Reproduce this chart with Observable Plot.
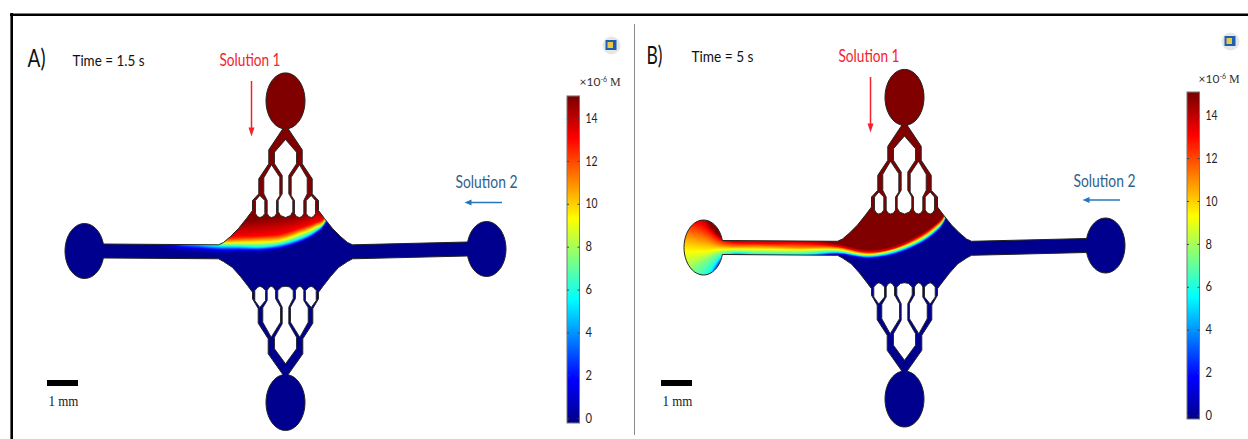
<!DOCTYPE html>
<html>
<head>
<meta charset="utf-8">
<script src="https://cdn.jsdelivr.net/npm/d3@7"></script>
<script src="https://cdn.jsdelivr.net/npm/@observablehq/plot@0.6"></script>
<style>html,body{margin:0;padding:0;background:#fff}svg{display:block}</style>
</head>
<body>
<div id="chart"></div>
<script>
// Colour scale of the concentration (x10^-6 M)
const colorStops = [0, 1.875, 5.625, 9.375, 13.125, 15];
const colorValues = ["#00008f", "#0000ff", "#00ffff", "#ffff00", "#ff0000", "#800000"];
const barTicks = [0, 2, 4, 6, 8, 10, 12, 14];

// Concentration levels and, per x station, the y at which each level sits
const levels = [15, 13.1, 11.2, 9.4, 7.5, 5.6, 1.9, 0];
const stationsA = [60, 125, 150, 175, 200, 218, 240, 260, 280, 300, 315, 325, 340];
const isolinesA = [
  [140, 145, 150, 155, 160, 165, 170, 175],
  [180, 185, 190, 195, 200, 205, 212, 218],
  [200, 205, 210, 215, 220, 225, 235, 243],
  [215, 220, 225, 230, 235, 240, 245, 250],
  [228, 232, 235, 238, 241, 244, 247.5, 252],
  [233, 237, 240, 242, 243.5, 245.5, 249, 253],
  [222, 236, 239.5, 242, 244, 246, 249, 252],
  [218, 235.5, 238.5, 241.7, 244, 246.7, 249, 252],
  [216, 233.5, 237, 240, 242, 244, 246.7, 249],
  [214, 227.5, 230.5, 233, 235.5, 238, 240.7, 242.7],
  [209, 222, 224.5, 226.7, 228.7, 230.7, 232.7, 235],
  [207, 215.5, 217, 219, 220, 221, 222.5, 224],
  [170, 173, 176, 179, 182, 185, 188, 190]
];
const stationsB = [683, 702, 722, 760, 800, 836, 866.7, 893, 920, 937, 944, 960];
const isolinesB = [
  [150, 218, 233, 250, 277, 297, 320, 340],
  [210, 225, 238, 250.7, 262, 283, 300, 320],
  [236.7, 240, 245, 248.7, 252, 255.7, 260, 265],
  [236, 243, 245.7, 248.7, 251.5, 254, 258, 262],
  [238, 243, 247, 249.3, 251.7, 254.3, 258, 262],
  [243, 246, 247.3, 249, 250.3, 251.7, 253.3, 255],
  [249, 251.7, 252.8, 254, 254.8, 255.7, 257.3, 259],
  [245, 248, 248.7, 249.3, 250.5, 251.7, 253.7, 255],
  [233.3, 235.7, 237, 238.3, 239.5, 240.7, 242.7, 244],
  [221.7, 223.3, 224.7, 226, 227, 228.3, 230.2, 231.5],
  [213, 214.5, 216, 217, 218, 219, 220.5, 221.5],
  [170, 172, 174, 176, 178, 180, 182, 184]
];

// Device geometry: x from the device's centre line, y as read on panel A
const upperEdge = [[2.5,128],[16.7,149.3],[16.7,163.3],[26.7,178.3],[26.7,193.3],[33,200],[33,210],[39,218],[47,228],[55,236],[62,242],[67,244.3]];
const lowerEdge = [[67,258.3],[62,261],[53,267],[45,276],[38,285],[33,291.7],[33,298.3],[27.3,308],[27.3,322.7],[17.3,338.3],[17.3,353.3],[2.7,374]];
const holeUpperLozenge = [[-25.7,195],[-30,200],[-30,213],[-28,216],[-25.7,217],[-23,216],[-20.7,213],[-20.7,200]];
const holeUpperSlot = [[-14,164.3],[-21.7,177.3],[-21.7,193.3],[-18.3,200],[-18.3,213],[-16.5,216],[-14,217],[-11,216],[-9,213],[-9,200],[-5.7,195],[-5.7,176.7]];
const holeUpperCentre = [[0,139],[-11,151.7],[-11,163.3],[-3.3,175],[-3.3,193.3],[-7.3,200],[-7.3,211],[-5,215],[0,217]];
const holeLowerLozenge = [[-25.7,285.7],[-28,287],[-30.7,290],[-30.7,300],[-25.7,307],[-20,300],[-20,290],[-23,287]];
const holeLowerSlot = [[-14.3,285.7],[-16.5,287],[-18.3,290],[-18.3,300],[-22.7,307.3],[-22.7,321.7],[-14.3,336.7],[-5,321.7],[-5,306.7],[-10,298],[-10,290],[-12,287]];
const holeLowerCentre = [[0,285.7],[-4,286.5],[-7.7,290],[-7.7,298],[-3.3,306.7],[-3.3,323.3],[-11,336.7],[-11,348.3],[0,363.3]];

const W = 1248, H = 439;

const arc = (cx, cy, rx, ry, a0, a1, n = 48) =>
  d3.range(n + 1).map(i => { const a = a0 + (a1 - a0) * i / n; return [cx + rx * Math.cos(a), cy + ry * Math.sin(a)]; });
const mirror = pts => pts.map(([x, y]) => [-x, y]);
const outline = [
  ...upperEdge,
  ...arc(201, 248.5, 19.5, 27.5, -Math.PI + 0.257, Math.PI - 0.257),
  ...lowerEdge,
  ...arc(0, 402, 19.5, 28, -Math.PI / 2 + 0.139, 1.5 * Math.PI - 0.139),
  ...mirror(lowerEdge).reverse(),
  ...arc(-201, 250.5, 19.5, 27.5, 0.257, 2 * Math.PI - 0.257),
  ...mirror(upperEdge).reverse(),
  ...arc(0, 100.4, 19.5, 28, Math.PI / 2 + 0.13, 2.5 * Math.PI - 0.13)
];
const closed = pts => [...pts, pts[0]];
const sym = half => { const m = mirror(half).reverse().slice(1, -1); return [...half, ...m]; };
const holes = [
  holeUpperLozenge, mirror(holeUpperLozenge), holeUpperSlot, mirror(holeUpperSlot), sym(holeUpperCentre),
  holeLowerLozenge, mirror(holeLowerLozenge), holeLowerSlot, mirror(holeLowerSlot), sym(holeLowerCentre)
];

// Smooth curve through the isoline samples of one level
function smoothCurve(xs, ys) {
  const n = xs.length;
  const m = ys.map((_, i) => { const a = Math.max(i - 1, 0), b = Math.min(i + 1, n - 1); return (ys[b] - ys[a]) / (xs[b] - xs[a]); });
  return x => {
    if (x <= xs[0]) return ys[0];
    if (x >= xs[n - 1]) return ys[n - 1];
    const i = d3.bisectRight(xs, x) - 1, h = xs[i + 1] - xs[i], t = (x - xs[i]) / h, t2 = t * t, t3 = t2 * t;
    return (2*t3 - 3*t2 + 1) * ys[i] + (t3 - 2*t2 + t) * h * m[i] + (-2*t3 + 3*t2) * ys[i + 1] + (t3 - t2) * h * m[i + 1];
  };
}
function field(stations, rows) {
  const curves = levels.map((_, l) => smoothCurve(stations, rows.map(r => r[l])));
  const cache = new Map();
  return (x, y) => {
    let L = cache.get(x);
    if (!L) cache.set(x, L = curves.map(f => f(x)));
    if (y <= L[0]) return levels[0];
    for (let i = 0; i < L.length - 1; ++i) {
      if (y <= L[i + 1]) {
        const d = L[i + 1] - L[i];
        return d <= 0 ? levels[i + 1] : levels[i] + (levels[i + 1] - levels[i]) * (y - L[i]) / d;
      }
    }
    return 0;
  };
}

const textWidths = new Map(barTicks.map(d => [String(d), d >= 10 ? 12 : 6.5]));
function label(s, x, y, size, fill, family, width, anchor = "start") {
  if (width) textWidths.set(s, width);
  return Plot.text([s], {x: () => x, y: () => y, text: d => d, fontSize: size, fill, fontFamily: family, textAnchor: anchor, lineAnchor: "middle"});
}
const poly = (pts, dx, dy, o) => Plot.line(closed(pts), {x: d => d[0] + dx, y: d => d[1] + dy, ...o});

function panel(p) {
  const {cx, dy, name, time, timeX, timeW, nameX, nameY, stations, rows, barX, barTop, barBot, y0, sol1X, sol1Y, sol2X, sol2Y, arrowX, arrowY0, arrowBlueY, logoX, logoY, unitX, unitY, scaleX} = p;
  const k = 21.45;
  const barLevels = d3.range(-0.25, 15.2, 0.05);
  const barY = c => y0 - c * k;
  return [
    Plot.raster({x1: cx - 226, x2: cx + 226, y1: 64 + dy, y2: 436 + dy, pixelSize: 1, fill: field(stations, rows)}),
    poly(outline, cx, dy, {stroke: "#222", strokeWidth: 1}),
    holes.map(h => poly(h, cx, dy, {fill: "white", stroke: "#222", strokeWidth: 0.9})),
    label(name, nameX, nameY, 25, "#111", "Lato", p.nameW),
    label(time, timeX, nameY + 1.5, 16, "#111", "Lato", timeW),
    label("Solution 1", sol1X, sol1Y, 17, "#f5212b", "Lato", 61),
    label("Solution 2", sol2X, sol2Y, 17, "#2f618c", "Lato", 62),
    Plot.ruleX([arrowX], {y1: arrowY0, y2: arrowY0 + 47, stroke: "#f5212b", strokeWidth: 1.5}),
    poly([[-3, 0], [3, 0], [0, 9]], arrowX, arrowY0 + 46, {fill: "#f5212b", stroke: "none"}),
    Plot.ruleY([arrowBlueY], {x1: sol2X + 15, x2: sol2X + 47, stroke: "#2378bd", strokeWidth: 1.5}),
    poly([[0, -3], [0, 3], [-7, 0]], sol2X + 16, arrowBlueY, {fill: "#2378bd", stroke: "none"}),
    // colour bar: slices overlap so that no seams show
    Plot.rect(barLevels.filter(c => barY(c) <= barBot && barY(c) >= barTop), {
      x1: () => barX, x2: () => barX + 12.5,
      y1: c => Math.min(barBot, barY(c) + k * 0.1), y2: c => barY(c) - k * 0.03,
      fill: c => c
    }),
    Plot.rect([0], {x1: () => barX, x2: () => barX + 12.5, y1: () => barTop, y2: () => barBot, stroke: "#777", strokeWidth: 1, fill: "none"}),
    Plot.ruleY(barTicks, {y: barY, x1: barX, x2: barX + 2, stroke: "#444", strokeWidth: 1}),
    Plot.ruleY(barTicks, {y: barY, x1: barX + 10.5, x2: barX + 12.5, stroke: "#444", strokeWidth: 1}),
    Plot.text(barTicks, {x: () => barX + 18, y: barY, text: d => String(d), fontSize: 13, fontFamily: "Lato", fill: "#222", textAnchor: "start", lineAnchor: "middle"}),
    Plot.text(["×10-6 M"], {x: () => unitX, y: () => unitY, text: d => d, fontSize: 13, fill: "#333", textAnchor: "start", lineAnchor: "middle"}),
    // logo
    Plot.dot([0], {x: () => logoX, y: () => logoY, r: 9, fill: "#e6e6e6"}),
    Plot.rect([0], {x1: () => logoX - 5.5, x2: () => logoX + 5.5, y1: () => logoY - 5, y2: () => logoY + 5, fill: "#1d5fb3"}),
    Plot.rect([0], {x1: () => logoX - 3.5, x2: () => logoX + 2, y1: () => logoY - 3, y2: () => logoY + 3, fill: "#e9c94a"}),
    // scale bar
    Plot.rect([0], {x1: () => scaleX, x2: () => scaleX + 31, y1: () => 380, y2: () => 386, fill: "#000"}),
    label("1 mm", scaleX + 1, 401, 15, "#222", "Liberation Serif", 30)
  ];
}

const plot = Plot.plot({
  width: W, height: H, margin: 0,
  x: {type: "linear", domain: [0, W], range: [0, W], axis: null},
  y: {type: "linear", domain: [0, H], range: [0, H], axis: null},
  color: {type: "linear", domain: colorStops, range: colorValues, clamp: true, legend: false},
  style: {background: "#fff"},
  marks: [
    panel({cx: 285, dy: 0, name: "A)", nameW: 18, time: "Time = 1.5 s", timeX: 72, timeW: 72, nameX: 27, nameY: 58.5,
      stations: stationsA, rows: isolinesA, barX: 567, barTop: 96, barBot: 423, y0: 418.3,
      sol1X: 219, sol1Y: 60, sol2X: 455, sol2Y: 182, arrowX: 251, arrowY0: 81, arrowBlueY: 202,
      logoX: 611, logoY: 45, unitX: 579, unitY: 81, scaleX: 47}),
    panel({cx: 904, dy: -3.5, name: "B)", nameW: 16, time: "Time = 5 s", timeX: 691, timeW: 62, nameX: 646, nameY: 55,
      stations: stationsB, rows: isolinesB, barX: 1187, barTop: 92, barBot: 419, y0: 415.5,
      sol1X: 838, sol1Y: 56, sol2X: 1073, sol2Y: 181, arrowX: 870, arrowY0: 77, arrowBlueY: 199.5,
      logoX: 1230, logoY: 41, unitX: 1198, unitY: 78, scaleX: 661}),
    Plot.ruleY([14.2], {x1: 10, x2: W, stroke: "#000", strokeWidth: 2.6}),
    Plot.ruleX([11.2], {y1: 13, y2: H, stroke: "#000", strokeWidth: 2.6}),
    Plot.ruleX([634], {y1: 24, y2: 435, stroke: "#8a8a8a", strokeWidth: 1})
  ]
});

// Clip each concentration raster to its device outline; fit text to the measured widths
const svg = d3.select(plot);
const defs = svg.append("defs");
const line = d3.line();
[[285, 0], [904, -3.5]].forEach(([cx, dy], i) => {
  defs.append("clipPath").attr("id", "device" + i).append("path")
    .attr("d", line(outline.map(([x, y]) => [plot.scale("x").apply(x + cx), plot.scale("y").apply(y + dy)])) + "Z");
});
svg.selectAll("image").each(function (_, i) { this.parentNode.setAttribute("clip-path", `url(#device${i})`); });
svg.selectAll("text").each(function () {
  const content = this.textContent;
  if (content === "×10-6 M") {
    const t = d3.select(this).text(null);
    t.append("tspan").attr("font-family", "Lato").attr("font-size", 12).text("×10");
    t.append("tspan").attr("font-family", "Lato").attr("font-size", 7).attr("dy", -4).text("-6");
    t.append("tspan").attr("font-family", "Liberation Serif").attr("font-size", 12).attr("dy", 4).text(" M");
    return;
  }
  const w = textWidths.get(content);
  if (w) {
    this.setAttribute("textLength", w);
    this.setAttribute("lengthAdjust", "spacingAndGlyphs");
  }
});
document.getElementById("chart").append(plot);
</script>
</body>
</html>
